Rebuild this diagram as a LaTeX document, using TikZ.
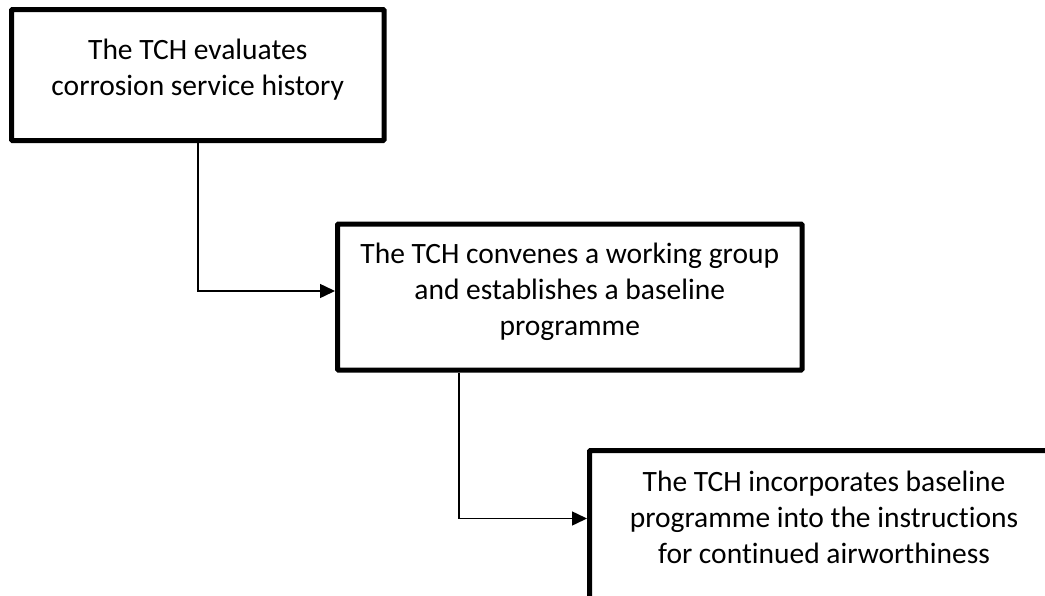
\documentclass[tikz,border=0pt]{standalone}
\usepackage{fontspec}
\setmainfont{Carlito}[Ligatures=NoCommon]
\usetikzlibrary{arrows.meta, positioning}

\begin{document}
\begin{tikzpicture}[x=1pt, y=-1pt, >={Triangle[length=15pt,width=14pt]}, thick]
        \tikzstyle{stepbox}=[draw=black, line width=5pt, rounded corners=1pt, fill=white, align=center, text=black, inner sep=0pt, text depth=16pt, font=\fontsize{29.5}{36}\selectfont]
        \tikzstyle{link}=[->, line width=1.5pt]
        \clip (0,0) rectangle (1045,595);
        \node[stepbox, minimum width=372.5pt, minimum height=131pt] (history) at (197.75,75) {The TCH evaluates\\corrosion service history};
        \node[stepbox, minimum width=464.5pt, minimum height=146pt, on grid, below right=222pt and 372pt of history] (group) {The TCH convenes a working group\\and establishes a baseline\\programme};
        \node[stepbox, minimum width=469pt, minimum height=150pt, on grid, below right=228.5pt and 254.25pt of group] (incorp) {The TCH incorporates baseline\\programme into the instructions\\for continued airworthiness};
        \draw[link] (history.south) |- ([yshift=6pt]group.west);
        \draw[link] ([xshift=124pt]group.south west) |- ([yshift=7pt]incorp.west);
\end{tikzpicture}
\end{document}
